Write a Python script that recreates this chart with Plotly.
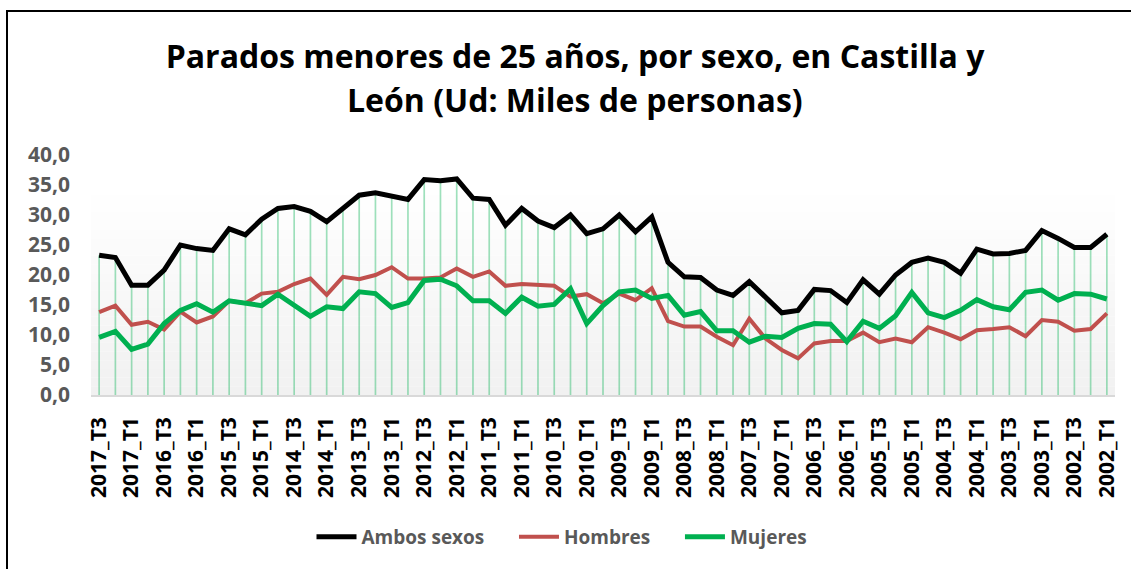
import plotly.graph_objects as go

years = list(range(2017, 2001, -1))
categories = []
for y in years:
    for q in (4, 3, 2, 1):
        if y == 2017 and q == 4:
            continue
        categories.append(f"{y}_T{q}")

ambos = [23.3, 22.9, 18.3, 18.3, 20.8, 25.0, 24.4, 24.1, 27.7, 26.7,
         29.3, 31.1, 31.4, 30.6, 28.9, 31.1, 33.3, 33.7, 33.2, 32.6,
         35.9, 35.7, 36.0, 32.8, 32.6, 28.3, 31.1, 29.0, 27.9, 30.0,
         26.9, 27.7, 30.0, 27.2, 29.7, 22.1, 19.7, 19.6, 17.5, 16.6,
         18.9, 16.4, 13.7, 14.1, 17.6, 17.4, 15.4, 19.2, 16.8, 20.0,
         22.1, 22.8, 22.1, 20.3, 24.3, 23.5, 23.6, 24.1, 27.4, 26.1,
         24.6, 24.6, 26.8]
hombres = [13.8, 14.9, 11.7, 12.2, 10.9, 13.9, 12.1, 13.1, 15.7, 15.3,
           16.9, 17.2, 18.5, 19.4, 16.7, 19.7, 19.3, 20.0, 21.3, 19.4,
           19.4, 19.6, 21.1, 19.7, 20.6, 18.2, 18.5, 18.3, 18.2, 16.4,
           16.8, 15.3, 16.9, 15.8, 17.8, 12.3, 11.4, 11.4, 9.7, 8.3,
           12.7, 9.4, 7.5, 6.1, 8.6, 9.0, 9.0, 10.4, 8.8, 9.4,
           8.8, 11.3, 10.4, 9.3, 10.8, 11.0, 11.3, 9.8, 12.5, 12.2,
           10.7, 11.0, 13.6]
mujeres = [9.6, 10.6, 7.6, 8.5, 11.9, 14.1, 15.2, 13.8, 15.7, 15.3,
           14.9, 16.8, 14.9, 13.1, 14.7, 14.4, 17.2, 16.9, 14.6, 15.4,
           19.1, 19.3, 18.2, 15.7, 15.7, 13.6, 16.3, 14.8, 15.1, 17.7,
           11.9, 14.9, 17.2, 17.5, 16.1, 16.6, 13.3, 13.9, 10.7, 10.7,
           8.8, 9.8, 9.6, 11.1, 11.9, 11.8, 8.9, 12.3, 11.1, 13.2,
           17.1, 13.7, 12.9, 14.1, 15.9, 14.7, 14.2, 17.1, 17.5, 15.8,
           16.9, 16.8, 16.0]

title_line1 = "Parados menores de 25 años, por sexo, en Castilla y"
title_line2 = "León (Ud: Miles de personas)"
FONT = "Open Sans"
NB = "\u00a0"

# drop lines built from the data
drop_x, drop_y = [], []
for c, v in zip(categories, ambos):
    drop_x += [c, c, None]
    drop_y += [0, v, None]

fig = go.Figure()
fig.add_trace(go.Scatter(x=drop_x, y=drop_y, mode="lines",
                         line=dict(color="rgba(0,176,80,0.38)", width=1.7),
                         showlegend=False, hoverinfo="skip"))
fig.add_trace(go.Scatter(x=categories, y=ambos, name="Ambos sexos" + NB * 5, mode="lines",
                         line=dict(color="#000000", width=5)))
fig.add_trace(go.Scatter(x=categories, y=hombres, name="Hombres" + NB * 5, mode="lines",
                         line=dict(color="#c0504d", width=4)))
fig.add_trace(go.Scatter(x=categories, y=mujeres, name="Mujeres", mode="lines",
                         line=dict(color="#00b050", width=5)))

L, R, T, B = 91, 16, 155, 174
W, H = 1131 - L - R, 569 - T - B

# gradient background bands
shapes = []
n = 24
top_frac = 0.87
for i in range(n):
    f0 = top_frac * i / n
    f1 = top_frac * (i + 1) / n
    t = i / (n - 1)
    g = int(round(241 + (255 - 241) * t))
    shapes.append(dict(type="rect", xref="x domain", yref="y domain",
                       x0=0, x1=1, y0=f0, y1=f1, line=dict(width=0),
                       fillcolor=f"rgb({g},{g},{g})", layer="below"))
# chart border
shapes.append(dict(type="rect", xref="paper", yref="paper",
                   x0=(7 - L) / W, x1=(1140 - L) / W,
                   y0=(569 - B - 580) / H, y1=(569 - B - 11) / H,
                   line=dict(color="#000000", width=2), fillcolor="rgba(0,0,0,0)",
                   layer="above"))

fig.update_layout(
    width=1131, height=569,
    margin=dict(l=L, r=R, t=T, b=B, autoexpand=False),
    paper_bgcolor="white", plot_bgcolor="white",
    separators=",.",
    font=dict(family=FONT),
    title=dict(text=title_line1, x=(575 - L) / W, xanchor="center", xref="paper",
               yref="container", y=1 - 57 / 569, yanchor="middle",
               font=dict(family=FONT, size=32, color="#000000", weight="bold")),
    annotations=[dict(text=title_line2, x=(575 - L) / W, xanchor="center", xref="paper",
                      yref="paper", y=(569 - B - 100) / H, yanchor="middle",
                      showarrow=False,
                      font=dict(family=FONT, size=32, color="#000000", weight="bold"))],
    xaxis=dict(type="category", tickmode="array", tickvals=categories[::2],
               ticktext=categories[::2], tickangle=-90, automargin=False,
               ticklabelstandoff=12,
               tickfont=dict(family=FONT, size=21, color="#000000", weight="bold"),
               showgrid=False, showline=True, linecolor="#d9d9d9", linewidth=1.5,
               ticks="", range=[-0.5, len(categories) - 0.5]),
    yaxis=dict(range=[0, 40], dtick=5, tickformat=".1f", showgrid=False,
               zeroline=False, showline=False, ticklabelstandoff=20, automargin=False,
               tickfont=dict(family=FONT, size=21, color="#595959", weight="bold")),
    legend=dict(orientation="h", x=(562 - L) / W, xanchor="center", y=(569 - B - 537) / H,
                yanchor="middle", font=dict(family=FONT, size=19, color="#595959", weight="bold"),
                itemwidth=40, tracegroupgap=0),
    shapes=shapes,
)

fig.write_html("out.html", config={"displayModeBar": False},
               post_script="document.body.style.margin='0px';")
